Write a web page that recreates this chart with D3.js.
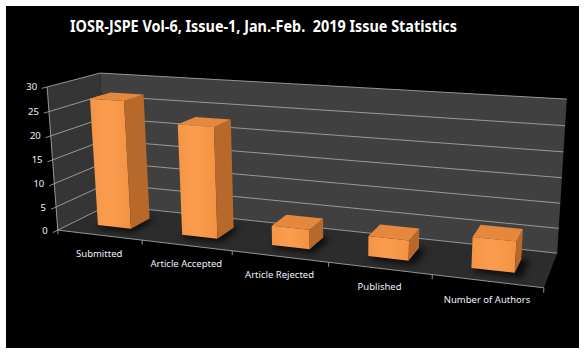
<html lang="en">
<head>
    <meta charset="UTF-8">
    <title>IOSR-JSPE Issue Statistics</title>
    <script src="https://cdn.jsdelivr.net/npm/d3@7/dist/d3.min.js" type="text/javascript"></script>
    <style>
        body { margin: 0; background: #fff; }
        text { font-family: "Noto Sans", "DejaVu Sans", sans-serif; }
    </style>
</head>
<body>
    <svg id="svg"></svg>

    <script>
        var WIDTH = 586;
        var HEIGHT = 354;

        // chart data
        var categories = ["Submitted", "Article Accepted", "Article Rejected", "Published", "Number of Authors"];
        var values = [27, 23, 4, 4, 6];
        var yTicks = [0, 5, 10, 15, 20, 25, 30];
        var yMax = 30;
        var title = "IOSR-JSPE Vol-6, Issue-1, Jan.-Feb.  2019 Issue Statistics";

        // screen position of some points of the 3D box (x 0..1 along categories, y 0..1 value, z 0 front..1 back)
        var calib = [
            [0, 0, 0, 58, 229], [0, 1, 0, 47, 88], [0, 0.5, 0, 52.5, 158],
            [0.2, 0, 0, 142, 240], [0.4, 0, 0, 232, 251], [0.6, 0, 0, 329, 263],
            [0.8, 0, 0, 433, 274], [1, 0, 0, 543, 290],
            [0, 1, 1, 100, 73], [1, 1, 1, 567, 100], [1, 0, 1, 557, 252],
            [0, 0, 1, 108, 207], [1, 0.5, 1, 562, 176]
        ];

        // fit a perspective camera (3x4 matrix) to the points above
        var fitCamera = function(pts) {
            var n = 11;
            var M = d3.range(n).map(function(){ return d3.range(n).map(function(){ return 0; }); });
            var r = d3.range(n).map(function(){ return 0; });
            pts.forEach(function(p) {
                var X = p[0], Y = p[1], Z = p[2], u = p[3] / 100, v = p[4] / 100;
                var rows = [
                    [[X, Y, Z, 1, 0, 0, 0, 0, -u * X, -u * Y, -u * Z], u],
                    [[0, 0, 0, 0, X, Y, Z, 1, -v * X, -v * Y, -v * Z], v]
                ];
                rows.forEach(function(row) {
                    for (var i = 0; i < n; i++) {
                        r[i] += row[0][i] * row[1];
                        for (var j = 0; j < n; j++) M[i][j] += row[0][i] * row[0][j];
                    }
                });
            });
            // gaussian elimination
            for (var c = 0; c < n; c++) {
                var best = c;
                for (var k = c + 1; k < n; k++) if (Math.abs(M[k][c]) > Math.abs(M[best][c])) best = k;
                var t = M[c]; M[c] = M[best]; M[best] = t;
                var tr = r[c]; r[c] = r[best]; r[best] = tr;
                for (var k2 = c + 1; k2 < n; k2++) {
                    var f = M[k2][c] / M[c][c];
                    for (var j2 = c; j2 < n; j2++) M[k2][j2] -= f * M[c][j2];
                    r[k2] -= f * r[c];
                }
            }
            var p = d3.range(n).map(function(){ return 0; });
            for (var i2 = n - 1; i2 >= 0; i2--) {
                var s = r[i2];
                for (var j3 = i2 + 1; j3 < n; j3++) s -= M[i2][j3] * p[j3];
                p[i2] = s / M[i2][i2];
            }
            return p;
        };

        var cam = fitCamera(calib);
        var proj = function(x, y, z) {
            var d = cam[8] * x + cam[9] * y + cam[10] * z + 1;
            return [
                100 * (cam[0] * x + cam[1] * y + cam[2] * z + cam[3]) / d,
                100 * (cam[4] * x + cam[5] * y + cam[6] * z + cam[7]) / d
            ];
        };

        var buildChart = function() {
            var svg = d3.select("#svg")
                        .attr("width", WIDTH)
                        .attr("height", HEIGHT);

            var xScale = d3.scaleBand()
                           .domain(categories)
                           .range([0, 1])
                           .paddingInner(0.6)
                           .paddingOuter(0.3);
            var catScale = d3.scaleBand()
                             .domain(categories)
                             .range([0, 1]);
            var yScale = d3.scaleLinear()
                           .domain([0, yMax])
                           .range([0, 1]);
            var z0 = 0.3, z1 = 0.7;

            var poly = function(pts) {
                return d3.line()(pts.map(function(p){ return proj(p[0], p[1], p[2]); })) + "Z";
            };

            var defs = svg.append("defs");
            defs.append("filter").attr("id", "blur")
                .attr("x", "-50%").attr("y", "-50%").attr("width", "200%").attr("height", "200%")
                .append("feGaussianBlur").attr("stdDeviation", 3);
            var grad = defs.append("linearGradient").attr("id", "front");
            grad.append("stop").attr("offset", "0%").attr("stop-color", "#f59445");
            grad.append("stop").attr("offset", "45%").attr("stop-color", "#fb9d4f");
            grad.append("stop").attr("offset", "100%").attr("stop-color", "#f39242");

            // background
            svg.append("rect")
               .attr("x", 6).attr("y", 6)
               .attr("width", 573).attr("height", 342)
               .attr("fill", "#000");

            // walls and floor
            svg.append("path").attr("d", poly([[0, 0, 0], [0, 1, 0], [0, 1, 1], [0, 0, 1]])).attr("fill", "#353535");
            svg.append("path").attr("d", poly([[0, 0, 1], [0, 1, 1], [1, 1, 1], [1, 0, 1]])).attr("fill", "#404040");
            svg.append("path").attr("d", poly([[0, 0, 0], [1, 0, 0], [1, 0, 1], [0, 0, 1]])).attr("fill", "#2c2c2c");

            // gridlines
            svg.append("g")
               .selectAll("path")
               .data(yTicks)
               .enter()
               .append("path")
               .attr("d", function(d){
                   var v = yScale(d);
                   return d3.line()([proj(0, v, -0.09), proj(0, v, 1), proj(1, v, 1)]);
               })
               .attr("fill", "none")
               .attr("stroke", "#a3a3a3")
               .attr("stroke-width", 0.9);

            // axes
            svg.append("path")
               .attr("d", d3.line()([proj(0, 0, 0), proj(0, 1, 0)]))
               .attr("stroke", "#a3a3a3").attr("stroke-width", 0.9);
            svg.append("path")
               .attr("d", d3.line()([proj(0, 0, 0), proj(1, 0, 0)]))
               .attr("stroke", "#a3a3a3").attr("stroke-width", 0.9);
            svg.append("g")
               .selectAll("path")
               .data(categories.concat([null]))
               .enter()
               .append("path")
               .attr("d", function(d){
                   var x = d === null ? 1 : catScale(d);
                   return d3.line()([proj(x, 0, 0), proj(x, -0.03, 0)]);
               })
               .attr("stroke", "#a3a3a3").attr("stroke-width", 0.9);

            // shadows on the floor
            svg.append("g")
               .selectAll("path")
               .data(categories)
               .enter()
               .append("path")
               .attr("d", function(d){
                   var a = xScale(d) + 0.006, b = a + xScale.bandwidth() + 0.01;
                   return poly([[a, 0, z0 - 0.1], [b, 0, z0 - 0.1], [b, 0, z1], [a, 0, z1]]);
               })
               .attr("fill", "#000")
               .attr("opacity", 0.7)
               .attr("filter", "url(#blur)");

            // bars
            var bars = svg.append("g")
                          .selectAll("g")
                          .data(categories)
                          .enter()
                          .append("g");
            var top = function(i){ return yScale(values[i]); };
            bars.append("path")
                .attr("d", function(d, i){
                    var a = xScale(d), b = a + xScale.bandwidth(), h = top(i);
                    return poly([[a, 0, z0], [b, 0, z0], [b, h, z0], [a, h, z0]]);
                })
                .attr("fill", "url(#front)");
            bars.append("path")
                .attr("d", function(d, i){
                    var b = xScale(d) + xScale.bandwidth(), h = top(i);
                    return poly([[b, 0, z0], [b, 0, z1], [b, h, z1], [b, h, z0]]);
                })
                .attr("fill", "#b7692b");
            bars.append("path")
                .attr("d", function(d, i){
                    var a = xScale(d), b = a + xScale.bandwidth(), h = top(i);
                    return poly([[a, h, z0], [b, h, z0], [b, h, z1], [a, h, z1]]);
                })
                .attr("fill", "#e5883d");

            // value axis labels
            svg.append("g")
               .selectAll("text")
               .data(yTicks)
               .enter()
               .append("text")
               .attr("x", function(d){ return proj(0, yScale(d), 0)[0] - 10; })
               .attr("y", function(d){ return proj(0, yScale(d), 0)[1] + 3.5; })
               .attr("text-anchor", "end")
               .attr("font-size", "9.5px")
               .attr("fill", "#eef3ff")
               .text(function(d){ return d; });

            // category labels
            svg.append("g")
               .selectAll("text")
               .data(categories)
               .enter()
               .append("text")
               .attr("x", function(d){ return proj(catScale(d) + catScale.bandwidth() / 2, 0, 0)[0]; })
               .attr("y", function(d){ return proj(catScale(d) + catScale.bandwidth() / 2, 0, 0)[1] + 22; })
               .attr("text-anchor", "middle")
               .attr("font-size", "9.5px")
               .attr("fill", "#eef3ff")
               .text(function(d){ return d; });

            // title
            svg.append("text")
               .attr("x", 263.5)
               .attr("y", 32)
               .attr("text-anchor", "middle")
               .attr("font-size", "15.5px")
               .attr("font-weight", "bold")
               .attr("fill", "#fff")
               .attr("textLength", 387)
               .attr("lengthAdjust", "spacingAndGlyphs")
               .style("white-space", "pre")
               .text(title);
        };

        buildChart();
    </script>
</body>
</html>
